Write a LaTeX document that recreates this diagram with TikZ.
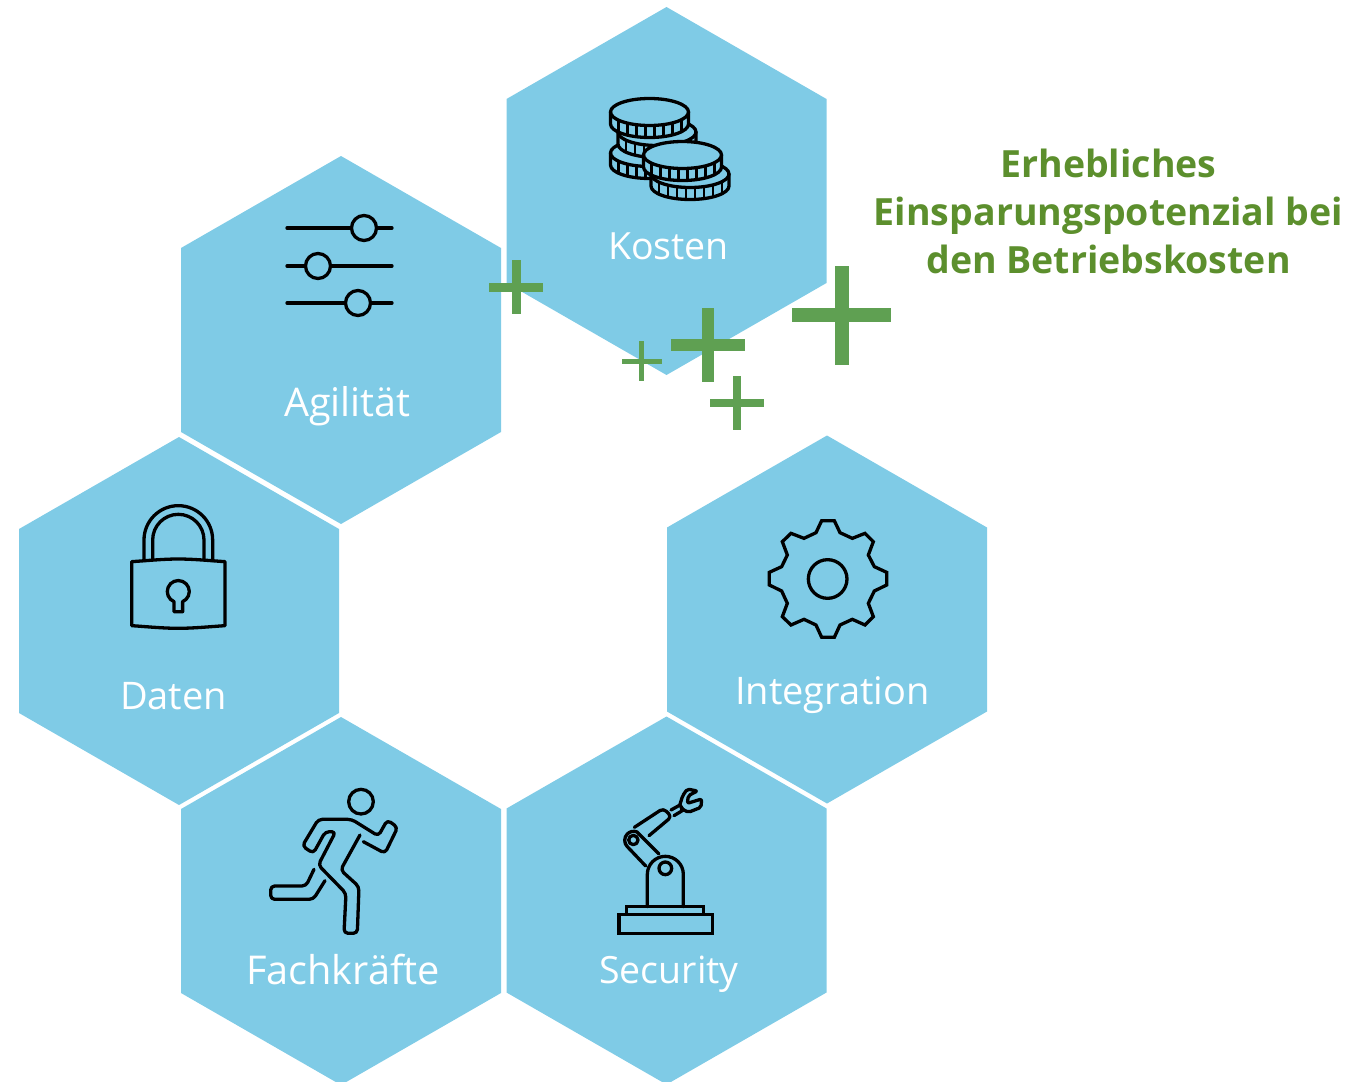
\documentclass[tikz,border=0pt]{standalone}
\usepackage{fontspec}
\setmainfont{Open Sans}
\definecolor{hexblue}{HTML}{7FCBE6}
\definecolor{plusgreen}{HTML}{5FA052}
\definecolor{textgreen}{HTML}{5C8F2D}
\tikzset{
  hexcell/.style={fill=hexblue,draw=none},
  icon/.style={draw=black,line width=3.3pt,line join=round,line cap=round,fill=none},
  hexlabel/.style={text=white,inner sep=0pt,anchor=base},
  plusbar/.style={fill=plusgreen,draw=none},
  headline/.style={text=textgreen,font=\fontsize{37.5}{48}\selectfont\bfseries,align=center,inner sep=0pt}
}
\newcommand{\hexcell}[2]{\fill[hexcell] (#1,#2-184) -- (#1+160,#2-92) -- (#1+160,#2+92) -- (#1,#2+184) -- (#1-160,#2+92) -- (#1-160,#2-92) -- cycle;}
\newcommand{\plussign}[4]{\fill[plusbar] (#1-#3,#2-#4/2) rectangle (#1+#3,#2+#4/2); \fill[plusbar] (#1-#4/2,#2-#3) rectangle (#1+#4/2,#2+#3);}
\newcommand{\fs}[1]{\fontsize{#1}{#1}\selectfont}
\newcommand{\coin}[2]{%
  \path[fill=hexblue] (#1-39,#2) -- (#1-39,#2+12) arc[start angle=180,end angle=0,x radius=39,y radius=13.5] -- (#1+39,#2) arc[start angle=0,end angle=-180,x radius=39,y radius=13.5] -- cycle;
  \draw[icon] (#1,#2) ellipse[x radius=39,y radius=13.5];
  \draw[icon] (#1-39,#2) -- (#1-39,#2+12) arc[start angle=180,end angle=0,x radius=39,y radius=13.5] -- (#1+39,#2);
  \foreach \d in {-31,-22,-13,-4,5,14,23,32} {
    \pgfmathsetmacro{\yy}{#2+13.5*sqrt(1-(\d/39)^2)}
    \draw[icon,line width=2.6pt,line cap=butt] (#1+\d,\yy) -- ++(0,12);
  }
}
\begin{document}
\begin{tikzpicture}[x=1pt,y=-1pt]
\useasboundingbox (0,0) rectangle (1356,1081);
\begin{scope}
\clip (0,0) rectangle (1356,1081);
\hexcell{666.5}{191}
\hexcell{341}{340}
\hexcell{179}{621}
\hexcell{341}{901}
\hexcell{666.5}{900.5}
\hexcell{827}{619.5}
\end{scope}

% labels
\node[hexlabel,font=\fs{37.5}] (kosten) at (668.5,259) {Kosten};
\node[hexlabel,font=\fs{39.5}] (agilitaet) at (347.5,416.5) {Agilität};
\node[hexlabel,font=\fs{38}] (daten) at (173.5,709) {Daten};
\node[hexlabel,font=\fs{38}] (integration) at (832.5,704) {Integration};
\node[hexlabel,font=\fs{39.7}] (fachkraefte) at (343,984) {Fachkräfte};
\node[hexlabel,font=\fs{37.5}] (security) at (669,983) {Security};
\node[headline] (headline) at (1108.5,211) {Erhebliches\\Einsparungspotenzial bei\\den Betriebskosten};

% plus signs
\plussign{516}{287}{27}{9}
\plussign{641.5}{361}{20}{5}
\plussign{708}{345}{37}{12}
\plussign{737}{403}{27}{8}
\plussign{841.5}{315}{49.5}{14}

% coins
\coin{649.5}{153}
\coin{657}{132}
\coin{649.5}{112}
\coin{690}{174}
\coin{682.5}{155}

% sliders
\draw[icon] (287,228) -- (351,228) (377,228) -- (392,228);
\draw[icon] (364,228) circle[radius=12.5];
\draw[icon] (287,266) -- (305,266) (331,266) -- (392,266);
\draw[icon] (318,266) circle[radius=12.5];
\draw[icon] (287,303) -- (345,303) (371,303) -- (392,303);
\draw[icon] (358,303) circle[radius=12.5];

% lock
\begin{scope}[shift={(120,495)},x=0.3333pt,y=-0.3333pt]
\draw[icon] (35,200) .. controls (80,197) and (130,192) .. (175,192) .. controls (220,192) and (270,197) .. (315,200) -- (315,392) .. controls (270,395) and (220,400) .. (175,400) .. controls (130,400) and (80,395) .. (35,392) -- cycle;
\draw[icon] (72,197) -- (72,135) arc[start angle=180,end angle=360,radius=103] -- (278,197);
\draw[icon] (98,193) -- (98,135) arc[start angle=180,end angle=360,radius=77] -- (252,193);
\draw[icon] (162,320) arc[start angle=113,end angle=427,radius=33] -- (188,350) -- (162,350) -- cycle;
\end{scope}

% gear
\begin{scope}[shift={(755,510)},x=0.3333pt,y=-0.3333pt]
\draw[icon,line join=miter] (200,32) -- (238,32) -- (255,68) -- (292,85) -- (330,70) -- (355,95) -- (340,135) -- (358,170) -- (395,187) -- (395,225) -- (358,243) -- (340,280) -- (355,320) -- (330,345) -- (292,328) -- (255,345) -- (238,382) -- (200,382) -- (183,345) -- (147,328) -- (108,345) -- (82,320) -- (97,280) -- (80,243) -- (43,225) -- (43,187) -- (80,170) -- (97,135) -- (82,95) -- (108,70) -- (147,85) -- (183,68) -- cycle;
\draw[icon] (218,207) circle[radius=58];
\end{scope}

% runner
\begin{scope}[shift={(250,770)},x=0.3333pt,y=-0.3333pt]
\draw[icon] (333,95) circle[radius=37];
\draw[icon,rounded corners=4pt] (330,195) -- (272,300) -- (327,350) -- (322,490) -- (282,490) -- (288,370) -- (205,285) -- (257,185) -- (226,185) -- (190,250) -- (157,228) -- (205,148) -- (305,148) -- (385,198) -- (412,150) -- (443,172) -- (405,250) -- (340,215);
\draw[icon,rounded corners=4pt] (192,298) -- (168,348) -- (62,348) -- (62,388) -- (190,388) -- (225,332);
\end{scope}

% robot
\begin{scope}[shift={(600,775)},x=0.3333pt,y=-0.3333pt]
\draw[icon,line join=miter] (57,418) rectangle (337,475);
\draw[icon,line join=miter] (80,418) -- (80,395) -- (310,395) -- (310,418);
\draw[icon] (142,395) -- (142,298) arc[start angle=180,end angle=360,radius=54] -- (250,395);
\draw[icon] (196,280) circle[radius=19];
\draw[icon] (100,195) circle[radius=14];
\draw[icon] (137,273) -- (82,215) arc[start angle=135,end angle=290,radius=27] -- (177,237);
\draw[icon,rounded corners=4pt] (103,157) -- (190,100) -- (215,125) -- (147,182);
\draw[icon,line join=miter] (213,105) -- (240,90) -- (250,105) -- (222,122);
\draw[icon,rounded corners=2pt] (240,88) -- (248,62) -- (262,42) -- (292,48) -- (265,62) -- (262,85) -- (305,72) -- (303,97) -- (265,112) -- (243,100);
\end{scope}
\end{tikzpicture}
\end{document}
